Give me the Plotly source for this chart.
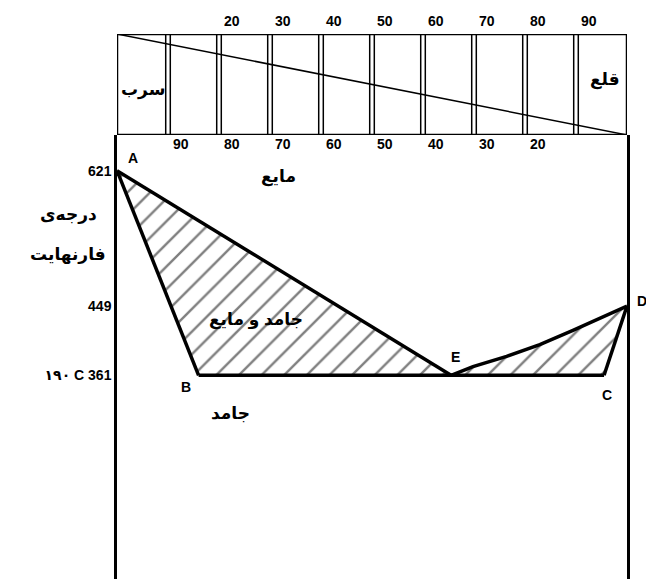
import plotly.graph_objects as go

# نقاط نمودار فاز سرب-قلع (درصد قلع، دمای فارنهایت)
point_names = ["A", "B", "E", "C", "D"]
point_comp = [0, 16, 65.5, 95.5, 100]
point_temp = [621, 361, 361, 361, 449]

# منحنی E تا D
curve_comp = [65.5, 69.8, 76.4, 82.9, 89.4, 94.7, 100]
curve_temp = [361, 372, 385, 400, 418, 433, 449]

# محور دما
temp_ticks = [621, 449, 361]
temp_tick_text = ["621", "449", "۱۹۰ C 361"]

# تقسیمات جعبه‌ی بالا
scale_steps = [10, 20, 30, 40, 50, 60, 70, 80, 90]
top_labels = [20, 30, 40, 50, 60, 70, 80, 90]
bottom_labels = [90, 80, 70, 60, 50, 40, 30, 20]

FONT = "Liberation Sans, Arial, DejaVu Sans"
pc = dict(zip(point_names, point_comp))
pt = dict(zip(point_names, point_temp))


def bold(size):
    return dict(size=size, family=FONT, weight="bold", color="black")


fig = go.Figure()

hatch = dict(shape="/", size=16, solidity=0.15, fgcolor="black", bgcolor="white")

# ناحیه‌ی جامد و مایع (چپ)
fig.add_trace(go.Scatter(
    x=[pc["A"], pc["B"], pc["E"], pc["A"]],
    y=[pt["A"], pt["B"], pt["E"], pt["A"]],
    fill="toself", fillcolor="white", fillpattern=hatch,
    mode="lines", line=dict(width=0), hoverinfo="skip"))

# ناحیه‌ی جامد و مایع (راست)
fig.add_trace(go.Scatter(
    x=curve_comp + [pc["C"], pc["E"]],
    y=curve_temp + [pt["C"], pt["E"]],
    fill="toself", fillcolor="white", fillpattern=hatch,
    mode="lines", line=dict(width=0), hoverinfo="skip"))

line_style = dict(color="black", width=3.5)
for a, b in [("A", "B"), ("A", "E"), ("B", "C"), ("D", "C")]:
    fig.add_trace(go.Scatter(x=[pc[a], pc[b]], y=[pt[a], pt[b]],
                             mode="lines", line=line_style, hoverinfo="skip"))
fig.add_trace(go.Scatter(x=curve_comp, y=curve_temp, mode="lines",
                         line=line_style, hoverinfo="skip"))

# جعبه‌ی بالا
fig.add_trace(go.Scatter(x=[0, 100, 100, 0, 0], y=[0, 0, 1, 1, 0], yaxis="y2",
                         mode="lines", line=dict(color="black", width=2.5),
                         hoverinfo="skip"))
fig.add_trace(go.Scatter(x=[0, 100], y=[1, 0], yaxis="y2", mode="lines",
                         line=dict(color="black", width=1.5), hoverinfo="skip"))
for s in scale_steps:
    for off in (-0.45, 0.45):
        fig.add_trace(go.Scatter(x=[s + off, s + off], y=[0, 1], yaxis="y2",
                                 mode="lines", line=dict(color="black", width=1.5),
                                 hoverinfo="skip"))

ann = []
for s, lab in zip(scale_steps[1:], top_labels):
    ann.append(dict(x=s + 0.6, y=1, xref="x", yref="y2", text=str(lab),
                    xanchor="left", yanchor="bottom", showarrow=False, yshift=3,
                    font=bold(14)))
for s, lab in zip(scale_steps[:-1], bottom_labels):
    ann.append(dict(x=s + 0.6, y=0, xref="x", yref="y2", text=str(lab),
                    xanchor="left", yanchor="top", showarrow=False, yshift=1,
                    font=bold(14)))

# حروف نقاط
letter_pos = {"A": (3.2, 637), "B": (13.6, 346), "E": (66.4, 384),
              "C": (96, 336)}
for n, (x, y) in letter_pos.items():
    ann.append(dict(x=x, y=y, text=n, showarrow=False, font=bold(14),
                    xanchor="center", yanchor="middle"))
ann.append(dict(x=1.029, y=0.517, xref="paper", yref="paper", text="D",
                xanchor="center", yanchor="middle", showarrow=False,
                font=bold(14)))

texts = [
    ("مایع", 31.7, 613, "y"),
    ("جامد و مایع", 27.3, 431, "y"),
    ("جامد", 22.2, 313, "y"),
    ("سرب", 5.1, 0.445, "y2"),
    ("قلع", 95.7, 0.545, "y2"),
]
for t, x, y, yr in texts:
    ann.append(dict(x=x, y=y, xref="x", yref=yr, text=t, showarrow=False,
                    xanchor="center", yanchor="middle", font=bold(17)))

# عنوان محور دما
for t, y in [("درجه‌ی", 0.673), ("فارنهایت", 0.600)]:
    ann.append(dict(x=-0.096, y=y, xref="paper", yref="paper", text=t,
                    xanchor="center", yanchor="middle", showarrow=False,
                    font=bold(17)))

fig.update_layout(
    width=654, height=579,
    margin=dict(l=109, r=35, t=26, b=0),
    paper_bgcolor="white", plot_bgcolor="white",
    showlegend=False,
    annotations=ann,
    xaxis=dict(range=[0, 100], showgrid=False, zeroline=False,
               showticklabels=False, showline=False),
    yaxis=dict(domain=[0, 0.8174], range=[92.0, 666.3], showgrid=False,
               zeroline=False, showline=True, mirror=True, linecolor="black",
               linewidth=2.5, tickvals=temp_ticks, ticktext=temp_tick_text,
               ticks="", tickfont=bold(14)),
    yaxis2=dict(domain=[0.8174, 1], range=[0, 1], anchor="x", showgrid=False,
                zeroline=False, showticklabels=False),
)

fig.write_html("out.html")
